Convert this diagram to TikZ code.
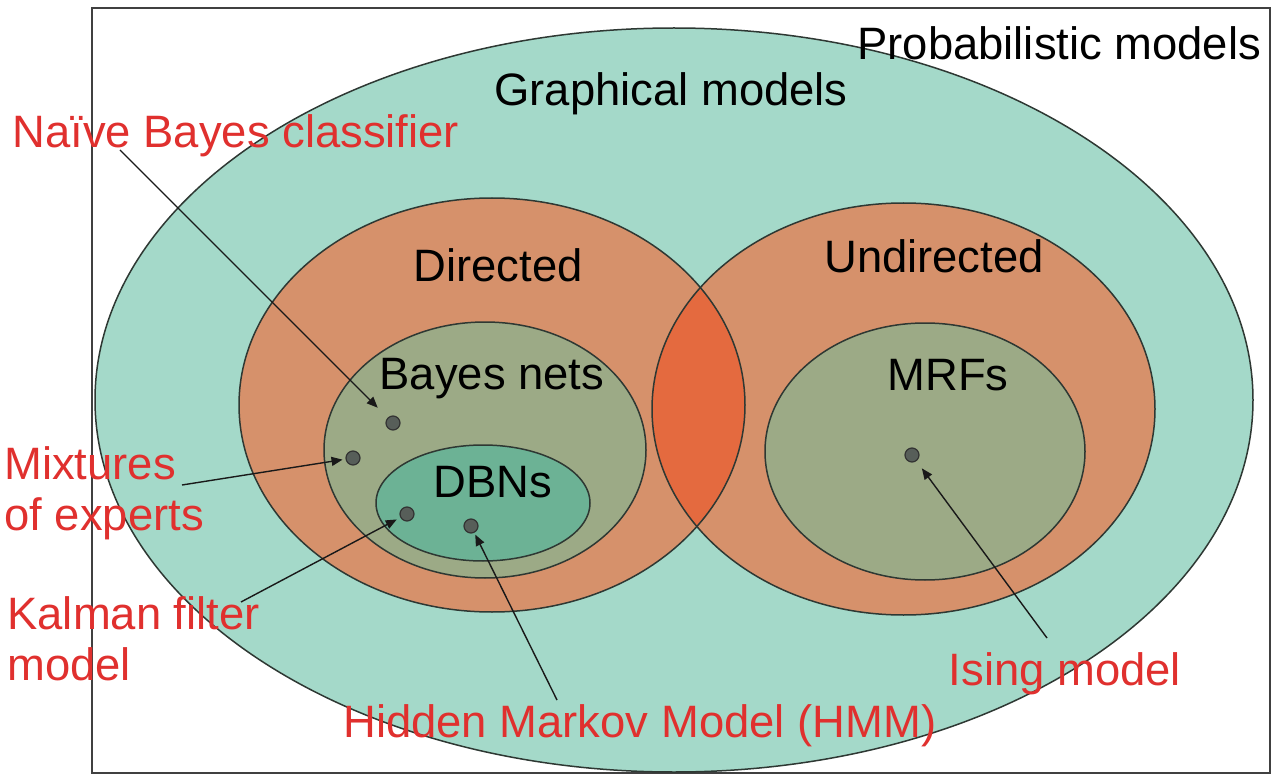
\documentclass[tikz,border=0pt]{standalone}
\usepackage{fontspec}
\setmainfont{Liberation Sans}
\usetikzlibrary{arrows.meta}
\definecolor{tealA}{HTML}{A4D9C9}
\definecolor{orngA}{HTML}{D6916B}
\definecolor{lensA}{HTML}{E46A3F}
\definecolor{oliveA}{HTML}{9CAA86}
\definecolor{dbnA}{HTML}{6CB295}
\definecolor{redA}{HTML}{E0302E}
\definecolor{dotA}{HTML}{575E59}
\definecolor{edgeA}{HTML}{2E3833}
\begin{document}
\begin{tikzpicture}[x=0.5pt,y=-0.5pt,
  region/.style={draw=edgeA, line width=0.75pt},
  lbl/.style={font=\fontsize{22.7}{25.5}\selectfont, inner sep=0pt, text=black},
  exlbl/.style={lbl, text=redA},
  dotpt/.style={circle, draw=black!80, fill=dotA, line width=0.6pt, minimum size=7pt, inner sep=0pt},
  arr/.style={draw=black!90, line width=0.7pt, -{Triangle[length=5.5pt,width=4.5pt]}}]
\useasboundingbox (0,0) rectangle (1276,781);
% frame
\draw[fill=white, draw=black!75, line width=0.7pt] (92,8) rectangle (1270,773);
% graphical models
\path[region, fill=tealA] (674,400) ellipse [x radius=289.5pt, y radius=186pt];
% directed / undirected
\fill[orngA] (492,405) ellipse [x radius=126.5pt, y radius=103.5pt];
\fill[orngA] (903.5,409) ellipse [x radius=125.75pt, y radius=103pt];
\begin{scope}
  \clip (492,405) ellipse [x radius=126.5pt, y radius=103.5pt];
  \fill[lensA] (903.5,409) ellipse [x radius=125.75pt, y radius=103pt];
\end{scope}
\draw[region] (492,405) ellipse [x radius=126.5pt, y radius=103.5pt];
\draw[region] (903.5,409) ellipse [x radius=125.75pt, y radius=103pt];
% inner sets
\path[region, fill=oliveA] (485,450) ellipse [x radius=80.5pt, y radius=64pt];
\path[region, fill=dbnA] (483,503) ellipse [x radius=53.5pt, y radius=29pt];
\path[region, fill=oliveA] (925,451.5) ellipse [x radius=80pt, y radius=64.25pt];
% set labels
\node[lbl, anchor=base west] (prob) at (857,60) {Probabilistic models};
\node[lbl, anchor=base west] (graph) at (494,106) {Graphical models};
\node[lbl, anchor=base] (dir) at (498,282) {Directed};
\node[lbl, anchor=base] (undir) at (934,272) {Undirected};
\node[lbl, anchor=base] (bn) at (492,389) {Bayes nets};
\node[lbl, anchor=base] (mrf) at (948,390) {MRFs};
\node[lbl, anchor=base] (dbns) at (493,497) {DBNs};
% example labels
\node[exlbl, anchor=base west] (nb) at (12,148) {Naïve Bayes classifier};
\node[exlbl, anchor=base west, align=left] (mix) at (4,530) {Mixtures\\of experts};
\node[exlbl, anchor=base west, align=left] (kal) at (7,680) {Kalman filter\\model};
\node[exlbl, anchor=base west] (hmm) at (343,737) {Hidden Markov Model (HMM)};
\node[exlbl, anchor=base] (ising) at (1065,685) {Ising model};
% points
\node[dotpt] (dnb) at (393,423) {};
\node[dotpt] (dmix) at (353,458) {};
\node[dotpt] (dkal) at (407,514) {};
\node[dotpt] (dhmm) at (471,526) {};
\node[dotpt] (dis) at (912,455) {};
% arrow tails
\coordinate (snb) at (120,150);
\coordinate (smix) at (182,485);
\coordinate (skal) at (241,602);
\coordinate (shmm) at (557,700);
\coordinate (sis) at (1047,638);
\draw[arr, shorten >=7pt] (snb) -- (dnb);
\draw[arr, shorten >=1.5pt] (smix) -- (dmix);
\draw[arr, shorten >=2pt] (skal) -- (dkal);
\draw[arr, shorten >=1pt] (shmm) -- (dhmm);
\draw[arr, shorten >=4.5pt] (sis) -- (dis);
\end{tikzpicture}
\end{document}
